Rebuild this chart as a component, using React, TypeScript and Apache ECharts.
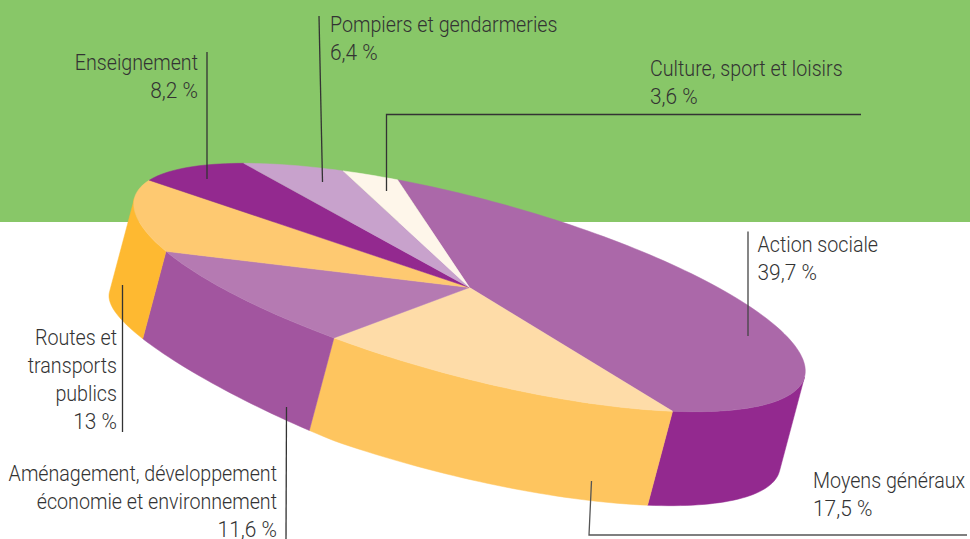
import React, { useEffect, useRef } from "react";
import * as echarts from "echarts";

// Printed labels
const names = [
  ["Action sociale"],
  ["Moyens généraux"],
  ["Aménagement, développement", "économie et environnement"],
  ["Routes et", "transports", "publics"],
  ["Enseignement"],
  ["Pompiers et gendarmeries"],
  ["Culture, sport et loisirs"],
];
const printedValues = ["39,7 %", "17,5 %", "11,6 %", "13 %", "8,2 %", "6,4 %", "3,6 %"];
// Wedge sizes as they are drawn in the picture (% of the disc)
const drawnShares = [43.1, 16.95, 11.35, 11.9, 8.4, 5.6, 2.7];
const topColors = ["#ab68a9", "#fedca8", "#b57ab2", "#fec971", "#93298f", "#c8a2cc", "#fef6ea"];
const wallColors = ["#93298f", "#fec55f", "#a2559f", "#feb931", "#93298f", "#c8a2cc", "#fef6ea"];

const W = 970, H = 539;
const START_DEG = 253.7;
const C = [469.5, 287.5], M = [335, 89.6], N = [-23, 86], D = [-25, 94];
// the lower rim of the drawing is a little flatter on its left side
const depthAt = (deg: number) => {
  const d = deg % 360;
  return d > 105 && d < 180 ? 1 - 0.075 * Math.sin(((d - 105) / 75) * Math.PI) : 1;
};
const pt = (deg: number, off = 0) => {
  const t = (deg * Math.PI) / 180;
  const k = off * depthAt(deg);
  return [
    C[0] + M[0] * Math.cos(t) + N[0] * Math.sin(t) + D[0] * k,
    C[1] + M[1] * Math.cos(t) + N[1] * Math.sin(t) + D[1] * k,
  ];
};
const arc = (a: number, b: number, off = 0) => {
  const n = Math.max(2, Math.ceil((b - a) / 1.5));
  const out: number[][] = [];
  for (let i = 0; i <= n; i++) out.push(pt(a + ((b - a) * i) / n, off));
  return out;
};
const ranges = (() => {
  let a = START_DEG;
  return drawnShares.map((s) => {
    const r = [a, a + (s * 360) / 100];
    a = r[1];
    return r;
  });
})();

const polyEl = (points: number[][], color: string) => ({
  type: "polygon",
  shape: { points },
  style: { fill: color, stroke: color, lineWidth: 0.5 },
});

const renderWall = (params: any) => {
  const i = params.dataIndex;
  const [a, b] = ranges[i];
  // the visible side of the disc runs from 0 to 180 degrees
  const out: any[] = [];
  for (const base of [0, 360]) {
    const s = Math.max(a, base), e = Math.min(b, base + 180);
    if (e > s) out.push(polyEl([...arc(s, e), ...arc(s, e, 1).reverse()], wallColors[i]));
  }
  return { type: "group", children: out };
};
const renderTop = (params: any) => {
  const i = params.dataIndex;
  const [a, b] = ranges[i];
  return polyEl([[C[0], C[1]], ...arc(a, b)], topColors[i]);
};

const FONT = '300 22.5px "Roboto", sans-serif';
const NAME_SCALE = 0.875;
const VALUE_SCALE = 0.93;
const LINE = 28.2;
const textEl = (text: string, x: number, baseline: number, align: "left" | "right", scaleX: number) => ({
  type: "text",
  z: 20,
  x,
  y: baseline - 22,
  scaleX,
  style: { text, font: FONT, fill: "#333333", align, verticalAlign: "top", lineHeight: LINE },
});
const label = (i: number, x: number, firstBaseline: number, align: "left" | "right") => [
  textEl(names[i].join("\n"), x, firstBaseline, align, NAME_SCALE),
  textEl(printedValues[i], x, firstBaseline + LINE * names[i].length, align, VALUE_SCALE),
];
const leader = (points: number[][], color = "#333333", w = 1.3) => ({
  type: "polyline",
  z: 20,
  shape: { points },
  style: { fill: "none", stroke: color, lineWidth: w },
});

export default function App() {
  const ref = useRef<HTMLDivElement>(null);
  useEffect(() => {
    const chart = echarts.init(ref.current!, undefined, { renderer: "svg" });
    chart.setOption({
      animation: false,
      graphic: [
        { type: "rect", z: -10, shape: { x: 0, y: 0, width: W, height: 222 }, style: { fill: "#88c768" } },
        leader([[207, 52], [207, 179]]),
        leader([[319, 16], [322.5, 182]]),
        leader([[861, 114.5], [386.5, 114.5], [386.5, 191]]),
        leader([[748, 231.5], [748, 336]], "#444444"),
        leader([[591.5, 481], [589, 535], [967, 535]], "#555555"),
        leader([[286.5, 407], [286, 539]]),
        leader([[122.5, 285], [122.5, 432]]),
        ...label(0, 757.5, 252, "left"),
        ...label(1, 813, 488, "left"),
        ...label(2, 277, 481, "right"),
        ...label(3, 117, 345, "right"),
        ...label(4, 198, 70, "right"),
        ...label(5, 330, 32, "left"),
        ...label(6, 650, 76, "left"),
      ],
      series: [
        { type: "custom", coordinateSystem: "none", z: 2, silent: true, renderItem: renderWall, data: drawnShares },
        { type: "custom", coordinateSystem: "none", z: 3, silent: true, renderItem: renderTop, data: drawnShares },
      ],
    });
    return () => chart.dispose();
  }, []);
  return <div ref={ref} style={{ position: "fixed", left: 0, top: 0, width: W, height: H, background: "#fff" }} />;
}
